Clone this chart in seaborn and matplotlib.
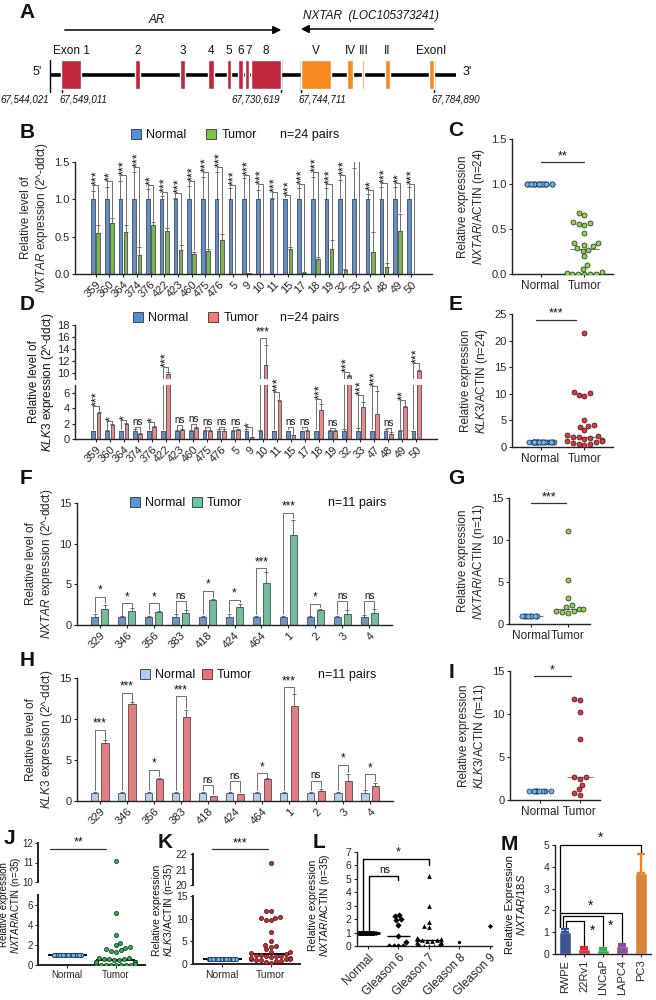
import warnings
import numpy as np
import pandas as pd
import matplotlib
matplotlib.use('Agg')
import matplotlib.pyplot as plt
from matplotlib.patches import Patch
import seaborn as sns

warnings.filterwarnings('ignore')
np.random.seed(3)

# ---- panel A: gene schematic (schematic x positions) ----
ar_exons = ['Exon 1', '2', '3', '4', '5', '6', '7', '8']
ar_start = [61, 135, 180, 208, 227, 238, 245, 251]
ar_end = [81, 140, 185, 214, 231, 243, 249, 281]
nx_exons = ['V', 'IV', 'III', 'II', 'ExonI']
nx_start = [301, 347, 362, 385, 429]
nx_end = [331, 353, 363.5, 390, 434]
coord_labels = ['67,544,021', '67,549,011', '67,730,619', '67,744,711', '67,784,890']
coord_pos = [50, 62, 281, 301, 434]

# ---- panels B / D: 24 pairs ----
pairs24 = ['359', '360', '364', '374', '376', '422', '423', '460', '475', '476', '5', '9',
           '10', '11', '15', '17', '18', '19', '32', '33', '47', '48', '49', '50']
normal24 = [1.0] * 24
b_normal_err = [0.11, 0.17, 0.25, 0.37, 0.14, 0.04, 0.02, 0.18, 0.30, 0.37, 0.15, 0.28,
                0.12, 0.02, 0.01, 0.15, 0.30, 0.15, 0.26, 0.42, 0.07, 0.17, 0.17, 0.16]
b_tumor = [0.55, 0.68, 0.56, 0.26, 0.66, 0.58, 0.32, 0.27, 0.31, 0.46, 0.0, 0.01,
           0.0, 0.0, 0.34, 0.02, 0.20, 0.34, 0.06, 0.0, 0.29, 0.10, 0.57, 0.0]
b_tumor_err = [0.11, 0.07, 0.09, 0.10, 0.04, 0.03, 0.07, 0.03, 0.02, 0.08, 0.0, 0.01,
               0.0, 0.0, 0.02, 0.01, 0.03, 0.11, 0.01, 0.0, 0.27, 0.05, 0.24, 0.0]
b_sig = ['***', '**', '***', '***', '**', '***', '***', '***', '***', '***', '***', '***',
         '***', '***', '***', '***', '***', '***', '***', '', '**', '***', '**', '***']
b_bracket = [1.19, 1.24, 1.32, 1.43, 1.19, 1.10, 1.08, 1.24, 1.37, 1.43, 1.19, 1.33,
             1.20, 1.10, 1.06, 1.20, 1.37, 1.20, 1.32, 1.52, 1.12, 1.22, 1.22, 1.20]

d_normal_err = [0.1, 0.15, 0.1, 0.25, 0.1, 0.1, 0.2, 0.15, 0.2, 0.3, 0.2, 0.3,
                0.15, 0.1, 0.1, 0.1, 0.1, 0.2, 0.3, 0.4, 0.1, 0.3, 0.2, 0.1]
d_tumor = [3.4, 1.8, 2.0, 0.6, 1.6, 9.8, 1.2, 1.4, 1.1, 1.0, 1.2, 0.2,
           11.4, 4.9, 0.5, 1.1, 3.8, 1.0, 9.5, 4.2, 3.2, 0.6, 4.1, 10.3]
d_tumor_err = [0.1, 0.1, 0.05, 0.2, 0.05, 0.3, 0.1, 0.1, 0.1, 0.3, 0.15, 0.1,
               3.3, 0.1, 0.05, 0.1, 0.7, 0.2, 0.2, 0.6, 3.0, 0.3, 0.2, 0.2]
d_sig = ['***', '*', '*', 'ns', '*', '***', 'ns', 'ns', 'ns', 'ns', 'ns', '*',
         '***', '***', 'ns', 'ns', '***', 'ns', '***', '***', '***', 'ns', '**', '***']
d_bracket = [4.3, 2.3, 2.5, 1.5, 2.2, 11.0, 1.8, 1.9, 1.5, 1.5, 1.6, 1.6,
             15.8, 6.1, 1.6, 1.6, 5.2, 1.4, 10.2, 5.7, 6.9, 1.4, 5.0, 11.6]

# E: KLK3 scatter, 24 tumours
e_tumor = [21.4, 10.4, 10.1, 9.7, 9.6, 5.0, 4.2, 4.0, 3.8, 3.2, 2.2, 2.0,
           1.9, 1.8, 1.7, 1.5, 1.3, 1.2, 1.1, 1.0, 0.8, 0.6, 0.5, 0.3]

# ---- panels F / H: 11 pairs ----
pairs11 = ['329', '346', '356', '383', '418', '424', '464', '1', '2', '3', '4']
normal11 = [1.0] * 11
f_normal_err = [0.35, 0.05, 0.15, 0.3, 0.1, 0.35, 0.1, 0.15, 0.05, 0.1, 0.2]
f_tumor = [2.0, 1.75, 1.6, 1.5, 3.05, 2.25, 5.2, 11.1, 1.8, 1.35, 1.45]
f_tumor_err = [0.45, 0.3, 0.1, 0.3, 0.15, 0.35, 1.3, 1.8, 0.2, 0.45, 0.5]
f_sig = ['*', '*', '*', 'ns', '*', '*', '***', '***', '*', 'ns', 'ns']
f_bracket = [3.5, 2.7, 2.7, 2.9, 4.2, 3.1, 7.0, 13.8, 2.6, 2.9, 2.9]

h_normal_err = [0.1, 0.1, 0.1, 0.15, 0.1, 0.15, 0.1, 0.15, 0.1, 0.1, 0.3]
h_tumor = [7.1, 11.8, 2.65, 10.2, 0.6, 0.8, 2.65, 11.6, 1.25, 2.5, 1.8]
h_tumor_err = [0.3, 0.25, 0.15, 0.9, 0.05, 0.05, 0.1, 1.4, 0.2, 0.8, 0.4]
h_sig = ['***', '***', '*', '***', 'ns', 'ns', '*', '***', 'ns', '*', '*']
h_bracket = [8.7, 13.2, 3.8, 12.8, 1.9, 2.45, 3.4, 13.9, 2.5, 4.4, 3.3]

# ---- panel L: NXTAR by Gleason score ----
gleason_cats = ['Normal', 'Gleason 6', 'Gleason 7', 'Gleason 8', 'Gleason 9']
l_normal = [1.0] * 35
l_g6 = [2.3, 2.2, 2.0, 1.9, 1.6, 0.75, 0.3, 0.02, 0.02, 0.02, 0.02]
l_g7 = [5.2, 3.0, 1.8, 1.5, 1.4, 0.6, 0.55, 0.5, 0.5, 0.45, 0.45, 0.4, 0.35, 0.3, 0.3,
        0.2, 0.1, 0.05, 0.05, 0.02, 0.02, 0.02]
l_g8 = [0.3]
l_g9 = [1.5]

# ---- panel M: cell lines ----
m_lines = ['RWPE', '22Rv1', 'LNCaP', 'LAPC4', 'PC3']
m_values = [1.0, 0.22, 0.18, 0.38, 3.7]
m_err = [0.15, 0.1, 0.08, 0.08, 0.9]
m_colors = ['#2f4ea1', '#e8262b', '#2fb552', '#8e4aa6', '#f5821f']
m_pairs = ['PC3', 'LAPC4', 'LNCaP', '22Rv1']
m_heights = [5.0, 1.86, 1.73, 1.5]

W, H = 656, 1000


def rect(l, t, r, b):
    return [l / W, 1 - b / H, (r - l) / W, (b - t) / H]


def fx(x):
    return x / W


def fy(y):
    return 1 - y / H


sns.set_style('ticks')
plt.rcParams['font.family'] = ['Liberation Sans', 'DejaVu Sans']
plt.rcParams['mathtext.fontset'] = 'custom'
plt.rcParams['mathtext.rm'] = 'Liberation Sans'
plt.rcParams['mathtext.it'] = 'Liberation Sans:italic'
plt.rcParams['axes.linewidth'] = 1.0
plt.rcParams['axes.edgecolor'] = '#222222'
plt.rcParams['xtick.major.size'] = 2.5
plt.rcParams['ytick.major.size'] = 2.5
plt.rcParams['xtick.labelsize'] = 8
plt.rcParams['ytick.labelsize'] = 8
plt.rcParams['xtick.major.pad'] = 1.5
plt.rcParams['ytick.major.pad'] = 1.5
plt.rcParams['text.color'] = '#111111'

fig = plt.figure(figsize=(6.56, 10), dpi=100)


def panel_label(letter, x, y):
    fig.text(fx(x), fy(y), letter, fontsize=15, fontweight='bold', ha='center', va='center')


def side_label(x, y, text, size=8):
    fig.text(fx(x), fy(y), text, rotation=90, ha='center', va='center', fontsize=size,
             linespacing=1.05, multialignment='center')


def legend(colors, x, y, spacing, note, note_x):
    handles = [Patch(facecolor=colors['Normal'], edgecolor='#333333', lw=0.6),
               Patch(facecolor=colors['Tumor'], edgecolor='#333333', lw=0.6)]
    fig.legend(handles, ['Normal', 'Tumor'], loc='center left', bbox_to_anchor=(fx(x), fy(y)),
               ncol=2, frameon=False, fontsize=9, handlelength=0.8, handleheight=0.8,
               handletextpad=0.4, columnspacing=spacing, borderpad=0, borderaxespad=0)
    fig.text(fx(note_x), fy(y), note, fontsize=9, va='center')


def bar_panel(axes, ylims, samples, normal, n_err, tumor, t_err, sig, bracket, colors,
              pad, rot_stars=True, flat=()):
    n = len(samples)
    df = pd.DataFrame({'sample': samples + samples,
                       'group': ['Normal'] * n + ['Tumor'] * n,
                       'value': normal + tumor})
    for ax, lim in zip(axes, ylims):
        sns.barplot(data=df, x='sample', y='value', hue='group', order=samples,
                    hue_order=['Normal', 'Tumor'], palette=colors, width=0.75, gap=0.3,
                    errorbar=None, edgecolor='#333333', linewidth=0.5, legend=False, ax=ax)
        ax.set_ylim(*lim)
        ax.set_xlabel('')
        ax.set_ylabel('')
    pos = {}
    for grp, cont in zip(['Normal', 'Tumor'], axes[0].containers):
        for bar in cont:
            cx = bar.get_x() + bar.get_width() / 2
            pos[(grp, int(round(cx)))] = cx
    xn = [pos[('Normal', i)] for i in range(n)]
    xt = [pos[('Tumor', i)] for i in range(n)]
    zeros = [0] * n
    for ax in axes:
        ax.errorbar(xn, normal, yerr=[zeros, n_err], fmt='none', ecolor='#555555',
                    elinewidth=0.6, capsize=1.2, capthick=0.6)
        ax.errorbar(xt, tumor, yerr=[zeros, t_err], fmt='none', ecolor='#555555',
                    elinewidth=0.6, capsize=1.2, capthick=0.6)
        for i in range(n):
            ax.plot([xn[i], xn[i], xt[i], xt[i]],
                    [normal[i] + n_err[i] + pad, bracket[i], bracket[i], tumor[i] + t_err[i] + pad],
                    color='#6e6e6e', lw=0.7)
    for i in range(n):
        target = axes[-1]
        for ax in axes:
            lo, hi = ax.get_ylim()
            if lo <= bracket[i] <= hi:
                target = ax
        mid = (xn[i] + xt[i]) / 2
        if sig[i] == 'ns':
            target.text(mid, bracket[i], 'ns', ha='center', va='bottom', fontsize=7)
        elif rot_stars and samples[i] not in flat:
            target.text(mid + 0.08, bracket[i], sig[i], ha='center', va='bottom', fontsize=9,
                        rotation=90)
        else:
            target.text(mid, bracket[i], sig[i], ha='center', va='bottom', fontsize=8.5)
    bottom = axes[-1]
    plt.setp(bottom.get_xticklabels(), rotation=45, ha='right', rotation_mode='anchor')
    for ax in axes[:-1]:
        sns.despine(ax=ax, bottom=True)
        ax.tick_params(axis='x', bottom=False, labelbottom=False)
    sns.despine(ax=bottom)


def dot_panel(axes, ylims, normal, tumor, n_color, t_color, size, jitter, med_color, med_w,
              med_lw, xlim):
    df = pd.DataFrame({'group': ['Normal'] * len(normal) + ['Tumor'] * len(tumor),
                       'value': normal + tumor})
    for ax, lim in zip(axes, ylims):
        sns.stripplot(data=df[df['group'] == 'Normal'], x='group', y='value',
                      order=['Normal', 'Tumor'], color=n_color, edgecolor='#1b2f55',
                      linewidth=0.5, size=size, jitter=jitter, ax=ax, zorder=3)
        sns.swarmplot(data=df[df['group'] == 'Tumor'], x='group', y='value',
                      order=['Normal', 'Tumor'], color=t_color, edgecolor='#222222',
                      linewidth=0.5, size=size, ax=ax, zorder=3)
        ax.hlines(np.median(tumor), 1 - med_w, 1 + med_w, color=med_color, lw=med_lw, zorder=2)
        ax.hlines(np.median(normal), -med_w, med_w, color=med_color, lw=med_lw, zorder=2)
        ax.set_ylim(*lim)
        ax.set_xlim(*xlim)
        ax.set_xlabel('')
        ax.set_ylabel('')
    for ax in axes[:-1]:
        sns.despine(ax=ax, bottom=True)
        ax.tick_params(axis='x', bottom=False, labelbottom=False)
    sns.despine(ax=axes[-1])


def sig_line(ax, x0, x1, y, text, size=9):
    ax.plot([x0, x1], [y, y], color='#333333', lw=0.9, clip_on=False)
    ax.text((x0 + x1) / 2, y, text, ha='center', va='bottom', fontsize=size)


# ================= A =================
ax = fig.add_axes(rect(0, 0, 656, 115))
ax.set_xlim(0, 656)
ax.set_ylim(115, 0)
ax.axis('off')
ax.plot([50, 456], [75, 75], color='black', lw=2.6, zorder=1, solid_capstyle='butt')
for x in coord_pos:
    ax.plot([x, x], [60, 92], color='black', lw=1.0, zorder=1)
ax.broken_barh([(s, e - s) for s, e in zip(ar_start, ar_end)], (60, 29),
               facecolors='#c1263d', zorder=2)
ax.broken_barh([(s, e - s) for s, e in zip(nx_start, nx_end)], (60, 29),
               facecolors='#f7891f', zorder=2)
for lab, s, e in zip(ar_exons + nx_exons, ar_start + nx_start, ar_end + nx_end):
    ax.text((s + e) / 2 + (1.5 if lab in ('7', 'III') else 0), 51, lab, ha='center',
            va='center', fontsize=8.5)
for lab, x, ha in zip(coord_labels, coord_pos, ['right', 'left', 'right', 'left', 'left']):
    ax.text(x + (-1 if ha == 'right' else -3), 100, lab, ha=ha, va='center', fontsize=7,
            style='italic')
ax.annotate('', xy=(284, 30), xytext=(62, 30),
            arrowprops=dict(arrowstyle='-|>', color='black', lw=1.1, mutation_scale=12))
ax.annotate('', xy=(298, 29), xytext=(436, 29),
            arrowprops=dict(arrowstyle='-|>', color='black', lw=1.1, mutation_scale=12))
ax.text(157, 20, 'AR', style='italic', fontsize=8.5, ha='center', va='center')
ax.text(371, 16, 'NXTAR  (LOC105373241)', style='italic', fontsize=8.5, ha='center', va='center')
ax.text(37, 72, "5'", fontsize=9, ha='center', va='center')
ax.text(467, 72, "3'", fontsize=9, ha='center', va='center')
panel_label('A', 27, 13)

# ================= B =================
b_colors = {'Normal': '#4f8fd8', 'Tumor': '#78c543'}
ax_b = fig.add_axes(rect(75, 162, 432, 274))
bar_panel([ax_b], [(0, 1.5)], pairs24, normal24, b_normal_err, b_tumor, b_tumor_err,
          b_sig, b_bracket, b_colors, pad=0.015)
ax_b.set_yticks([0, 0.5, 1.0, 1.5])
ax_b.set_yticklabels(['0.0', '0.5', '1.0', '1.5'])
ax_b.set_ylabel('Relative level of\n$\\it{NXTAR}$ expression (2^-ddct)', fontsize=8.5,
                labelpad=3)
legend(b_colors, 131, 135, 1.6, 'n=24 pairs', 280)
panel_label('B', 27, 132)

# ================= C =================
ax_c = fig.add_axes(rect(512, 139, 613, 274))
dot_panel([ax_c], [(0, 1.5)], normal24, b_tumor, '#6db6e8', '#8bd34a', 3.6, 0.32,
          '#7a7a7a', 0.33, 0.8, (-0.65, 1.65))
ax_c.set_yticks([0, 0.5, 1.0, 1.5])
ax_c.set_yticklabels(['0.0', '0.5', '1.0', '1.5'])
ax_c.tick_params(axis='x', labelsize=8.5)
ax_c.set_ylabel('Relative expression\n$\\it{NXTAR/}$ACTIN (n=24)', fontsize=8.5, labelpad=3)
sig_line(ax_c, 0, 1, 1.24, '**')
panel_label('C', 456, 130)

# ================= D =================
d_colors = {'Normal': '#4f8fd8', 'Tumor': '#f47a7c'}
ax_d_top = fig.add_axes(rect(75, 325, 437, 379))
ax_d_bot = fig.add_axes(rect(75, 385, 437, 439))
bar_panel([ax_d_top, ax_d_bot], [(9, 18), (0, 7)], pairs24, normal24, d_normal_err, d_tumor,
          d_tumor_err, d_sig, d_bracket, d_colors, pad=0.15, flat=('10',))
ax_d_top.set_yticks([10, 12, 14, 16, 18])
ax_d_bot.set_yticks([0, 2, 4, 6])
side_label(42, 382, 'Relative level of\n$\\it{KLK3}$ expression (2^-ddct)', size=8.5)
legend(d_colors, 133, 318, 1.6, 'n=24 pairs', 280)
panel_label('D', 27, 304)

# ================= E =================
ax_e = fig.add_axes(rect(512, 314, 613, 447))
dot_panel([ax_e], [(0, 25)], normal24, e_tumor, '#6db6e8', '#e8313a', 3.6, 0.32,
          '#7a7a7a', 0.33, 0.8, (-0.65, 1.65))
ax_e.set_yticks([0, 5, 10, 15, 20, 25])
ax_e.tick_params(axis='x', labelsize=8.5)
ax_e.set_ylabel('Relative expression\n$\\it{KLK3/}$ACTIN (n=24)', fontsize=8.5, labelpad=3)
sig_line(ax_e, -0.1, 0.8, 23.9, '***')
panel_label('E', 456, 305)

# ================= F =================
f_colors = {'Normal': '#5a94d6', 'Tumor': '#66c99b'}
ax_f = fig.add_axes(rect(77, 503, 392, 625))
bar_panel([ax_f], [(0, 15)], pairs11, normal11, f_normal_err, f_tumor, f_tumor_err,
          f_sig, f_bracket, f_colors, pad=0.2, rot_stars=False)
ax_f.set_yticks([0, 5, 10, 15])
ax_f.set_ylabel('Relative level of\n$\\it{NXTAR}$ expression (2^-ddct)', fontsize=8.5,
                labelpad=3)
legend(f_colors, 130, 503, 0.55, 'n=11 pairs', 328)
panel_label('F', 26, 479)

# ================= G =================
ax_g = fig.add_axes(rect(509, 498, 590, 624))
dot_panel([ax_g], [(0, 15)], normal11, f_tumor, '#6db6e8', '#8bd34a', 3.6, 0.3,
          '#7a7a7a', 0.33, 0.8, (-0.6, 1.6))
ax_g.set_yticks([0, 5, 10, 15])
ax_g.tick_params(axis='x', labelsize=8.5)
ax_g.set_ylabel('Relative expression\n$\\it{NXTAR/}$ACTIN (n=11)', fontsize=8.5, labelpad=3)
sig_line(ax_g, 0, 0.95, 14.4, '***')
panel_label('G', 456, 479)

# ================= H =================
h_colors = {'Normal': '#a9d1f2', 'Tumor': '#f36d74'}
ax_h = fig.add_axes(rect(77, 678, 393, 801))
bar_panel([ax_h], [(0, 15)], pairs11, normal11, h_normal_err, h_tumor, h_tumor_err,
          h_sig, h_bracket, h_colors, pad=0.2, rot_stars=False)
ax_h.set_yticks([0, 5, 10, 15])
ax_h.set_ylabel('Relative level of\n$\\it{KLK3}$ expression (2^-ddct)', fontsize=8.5,
                labelpad=3)
legend(h_colors, 140, 675, 0.55, 'n=11 pairs', 318)
panel_label('H', 27, 660)

# ================= I =================
ax_i = fig.add_axes(rect(510, 671, 600, 800))
dot_panel([ax_i], [(0, 15)], normal11, h_tumor, '#6db6e8', '#e8313a', 3.6, 0.3,
          '#7a7a7a', 0.33, 0.8, (-0.75, 1.5))
ax_i.set_yticks([0, 5, 10, 15])
ax_i.tick_params(axis='x', labelsize=8.5)
ax_i.set_ylabel('Relative expression\n$\\it{KLK3/}$ACTIN (n=11)', fontsize=8.5, labelpad=3)
sig_line(ax_i, -0.15, 0.78, 14.4, '*')
panel_label('I', 451, 672)

# ================= J =================
ax_j_top = fig.add_axes(rect(38, 843, 145, 882))
ax_j_bot = fig.add_axes(rect(38, 895, 145, 965))
dot_panel([ax_j_top, ax_j_bot], [(10, 12), (0, 7)], [1.0] * 35, b_tumor + f_tumor,
          '#6db6e8', '#22b24c', 3.0, 0.3, 'black', 0.4, 1.4, (-0.6, 1.6))
ax_j_top.set_yticks([10, 11, 12])
ax_j_bot.set_yticks([0, 2, 4, 6])
for a in (ax_j_top, ax_j_bot):
    a.tick_params(labelsize=7, pad=1)
    for s in a.spines.values():
        s.set_linewidth(1.4)
sig_line(ax_j_top, -0.35, 0.8, 11.7, '**', size=9)
side_label(11, 905, 'Relative expression\n$\\it{NXTAR/}$ACTIN (n=35)', size=7)
panel_label('J', 9, 838)

# ================= K =================
ax_k_top = fig.add_axes(rect(193, 854, 300, 885))
ax_k_bot = fig.add_axes(rect(193, 896, 300, 964))
dot_panel([ax_k_top, ax_k_bot], [(20, 22), (0, 15)], [1.0] * 35, e_tumor + h_tumor,
          '#6db6e8', '#e41e26', 3.0, 0.3, 'black', 0.4, 1.4, (-0.6, 1.6))
ax_k_top.set_yticks([20, 21, 22])
ax_k_bot.set_yticks([0, 5, 10, 15])
for a in (ax_k_top, ax_k_bot):
    a.tick_params(labelsize=7.5)
    for s in a.spines.values():
        s.set_linewidth(1.4)
sig_line(ax_k_top, -0.2, 0.95, 22.3, '***', size=9)
side_label(164, 910, 'Relative expression\n$\\it{KLK3/}$ACTIN (n=35)', size=7.5)
panel_label('K', 165, 842)

# ================= L =================
ax_l = fig.add_axes(rect(357, 852, 492, 946))
groups_l = [l_normal, l_g6, l_g7, l_g8, l_g9]
df_l = pd.DataFrame({'grade': sum([[c] * len(v) for c, v in zip(gleason_cats, groups_l)], []),
                     'value': sum(groups_l, [])})
markers = ['o', 'D', '^', 'o', 'D']
sizes = [3.0, 3.2, 3.4, 2.4, 2.6]
for cat, mk, sz in zip(gleason_cats, markers, sizes):
    sub = df_l[df_l['grade'] == cat]
    if cat == 'Normal':
        sns.stripplot(data=sub, x='grade', y='value', order=gleason_cats, color='black',
                      marker=mk, size=sz, jitter=0.3, ax=ax_l, zorder=3)
    else:
        sns.swarmplot(data=sub, x='grade', y='value', order=gleason_cats, color='black',
                      marker=mk, size=sz, ax=ax_l, zorder=3)
for i, vals in enumerate(groups_l[:3]):
    ax_l.hlines(np.median(vals), i - 0.38, i + 0.38, color='black', lw=1.0 if i else 2.0)
ax_l.set_xlim(-0.36, 4.07)
ax_l.set_ylim(0, 7)
ax_l.set_yticks(range(8))
ax_l.set_xlabel('')
ax_l.set_ylabel('')
ax_l.tick_params(labelsize=7.5)
plt.setp(ax_l.get_xticklabels(), rotation=45, ha='right', rotation_mode='anchor', fontsize=8.5)
sns.despine(ax=ax_l)
for (x0, x1, h, bot, lab, lx) in [(-0.15, 2, 6.45, 6.05, '*', 1.0), (0.05, 1, 5.25, 4.95, 'ns', 0.55)]:
    ax_l.plot([x0, x0, x1, x1], [1.15, h, h, bot], color='black', lw=1.0)
    ax_l.text(lx, h + 0.05, lab, ha='center', va='bottom', fontsize=9 if lab == '*' else 7.5)
side_label(320, 905, 'Relative expression\n$\\it{NXTAR/}$ACTIN (n=35)', size=7.5)
panel_label('L', 319, 843)

# ================= M =================
ax_m = fig.add_axes(rect(555, 845, 651, 954))
df_m = pd.DataFrame({'line': m_lines, 'value': m_values})
sns.barplot(data=df_m, x='line', y='value', hue='line', order=m_lines, hue_order=m_lines,
            palette=m_colors, width=0.62, errorbar=None, legend=False, ax=ax_m)
for i, (v, e, c) in enumerate(zip(m_values, m_err, m_colors)):
    ax_m.errorbar(i, v, yerr=[[0], [e]], fmt='none', ecolor=c, elinewidth=1.6, capsize=3,
                  capthick=1.6)
tops = {ln: v + e + 0.1 for ln, v, e in zip(m_lines, m_values, m_err)}
for k, (target, h) in enumerate(zip(m_pairs, m_heights)):
    x0 = [-0.27, -0.27, -0.12, 0.05][k]
    x1 = m_lines.index(target)
    ax_m.plot([x0, x0, x1, x1], [tops['RWPE'], h, h, tops[target]], color='black', lw=0.9,
              clip_on=False)
    if k < 2:
        ax_m.text((x0 + x1) / 2, h + 0.03, '*', ha='center', va='bottom', fontsize=10)
    else:
        ax_m.text(x1 + 0.42, h - 0.75, '*', ha='center', va='bottom', fontsize=10)
ax_m.set_ylim(0, 5)
ax_m.set_yticks(range(6))
ax_m.set_xlabel('')
ax_m.set_ylabel('')
ax_m.tick_params(labelsize=7.5)
plt.setp(ax_m.get_xticklabels(), rotation=90, fontsize=8)
sns.despine(ax=ax_m)
side_label(516, 905, 'Relative Expression\n$\\it{NXTAR/18S}$', size=8)
panel_label('M', 509, 845)

fig.savefig('out.png', dpi=100)
